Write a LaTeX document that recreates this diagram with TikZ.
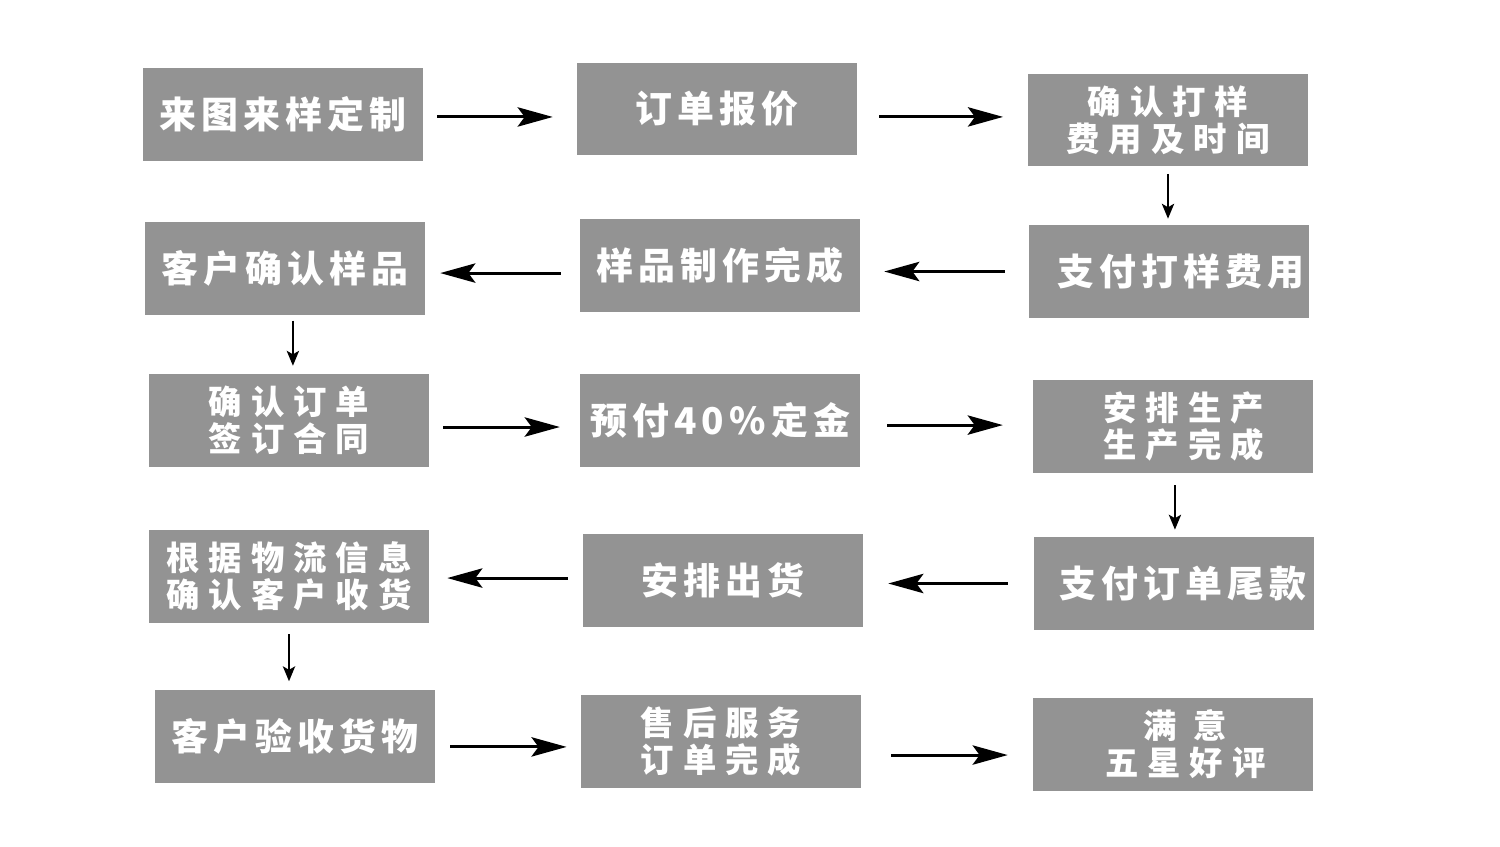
\documentclass[tikz,border=0pt]{standalone}
\usepackage{fontspec}
\usepackage{xcolor}
\usetikzlibrary{arrows.meta}
\newfontfamily\cjkone[LetterSpace=14]{Noto Sans CJK SC}
\newfontfamily\cjktwo[LetterSpace=27]{Noto Sans CJK SC}
\definecolor{boxgray}{RGB}{147,147,147}

\begin{document}
\begin{tikzpicture}[x=0.02cm,y=-0.02cm,
  box/.style={fill=boxgray, text=white, minimum width=5.6cm, minimum height=1.86cm,
    inner sep=0pt, align=center},
  oneline/.style={box, font=\cjkone\bfseries\fontsize{21}{24}\selectfont},
  twoline/.style={box, font=\cjktwo\bfseries\fontsize{19}{21}\selectfont},
  harr/.style={line width=1.7pt, -{Stealth[length=20pt,width=11pt,inset=4pt]}},
  varr/.style={line width=1.1pt, -{Stealth[length=8.5pt,width=7pt,inset=2pt]}}]
\fill[white] (0,0) rectangle (1500,846);
\useasboundingbox (0,0) rectangle (1500,846);

% row 1
\node[oneline] (n1) at (283,114.5) {来图来样定制};
\node[oneline] (n2) at (717,109) {订单报价};
\node[twoline] (n3) at (1168,120) {确认打样\\费用及时间};
% row 2
\node[oneline] (n4) at (285,268.5) {客户确认样品};
\node[oneline] (n5) at (720,265.5) {样品制作完成};
\node[oneline] (n6) at (1169,271.5) {\hspace{14pt}支付打样费用};
% row 3
\node[twoline] (n7) at (289,420.5) {确认订单\\签订合同};
\node[oneline] (n8) at (720,420.5) {预付40\%定金};
\node[twoline] (n9) at (1173,426.5) {\hspace{12pt}安排生产\\\hspace{12pt}生产完成};
% row 4
\node[twoline] (n10) at (289,576.5) {根据物流信息\\确认客户收货};
\node[oneline] (n11) at (723,580.5) {安排出货};
\node[oneline] (n12) at (1174,583.5) {\hspace{10pt}支付订单尾款};
% row 5
\node[oneline] (n13) at (295,736) {客户验收货物};
\node[twoline] (n14) at (721,741.5) {售后服务\\订单完成};
\node[twoline] (n15) at (1173,744.5) {\hspace{14pt}满 意\\\hspace{14pt}五星好评};

% arrows
\draw[harr, shorten <=8pt, shorten >=13.6pt] ([yshift=-1.4pt]n1.east) -- ([yshift=-1.4pt]n1.east -| n2.west);
\draw[harr, shorten <=12.5pt, shorten >=14pt] ([yshift=-4.5pt]n2.east) -- ([yshift=-4.5pt]n2.east -| n3.west);
\draw[varr, shorten <=4pt, shorten >=3.4pt] (n3.south) -- (n3.south |- n6.north);
\draw[harr, shorten <=13.6pt, shorten >=13.6pt] (n6.west) -- (n6.west -| n5.east);
\draw[harr, shorten <=10.8pt, shorten >=8.5pt] ([yshift=-4.3pt]n5.west) -- ([yshift=-4.3pt]n5.west -| n4.east);
\draw[varr, shorten <=3pt, shorten >=4.5pt] ([xshift=4.5pt]n4.south) -- ([xshift=4.5pt]n4.south |- n7.north);
\draw[harr, shorten <=8pt, shorten >=11.3pt] ([yshift=-3.7pt]n7.east) -- ([yshift=-3.7pt]n7.east -| n8.west);
\draw[harr, shorten <=15.3pt, shorten >=17pt] ([yshift=-2.6pt]n8.east) -- ([yshift=-2.6pt]n8.east -| n9.west);
\draw[varr, shorten <=6.8pt, shorten >=4pt] ([xshift=1.1pt]n9.south) -- ([xshift=1.1pt]n9.south |- n12.north);
\draw[harr, shorten <=14.7pt, shorten >=14.2pt] (n12.west) -- (n12.west -| n11.east);
\draw[harr, shorten <=8.5pt, shorten >=10.2pt] ([yshift=1.4pt]n11.west) -- ([yshift=1.4pt]n11.west -| n10.east);
\draw[varr, shorten <=6.2pt, shorten >=4.5pt] (n10.south) -- (n10.south |- n13.north);
\draw[harr, shorten <=8.5pt, shorten >=8pt] ([yshift=-6.2pt]n13.east) -- ([yshift=-6.2pt]n13.east -| n14.west);
\draw[harr, shorten <=17pt, shorten >=14.2pt] ([yshift=-7.7pt]n14.east) -- ([yshift=-7.7pt]n14.east -| n15.west);
\end{tikzpicture}
\end{document}
